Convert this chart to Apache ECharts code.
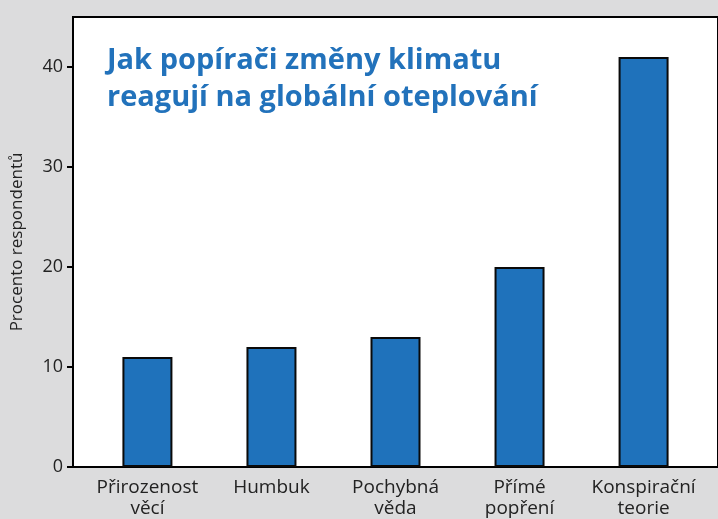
<!DOCTYPE html>
<html><head><meta charset="utf-8">
<script src="https://cdn.jsdelivr.net/npm/echarts@6/dist/echarts.min.js"></script>
<style>html,body{margin:0;padding:0;background:#dcdcdd;}#c{width:718px;height:519px;}</style>
</head><body><div id="c"></div>
<script>
const categories = ['Přirozenost\nvěcí', 'Humbuk', 'Pochybná\nvěda', 'Přímé\npopření', 'Konspirační\nteorie'];
const values = [11, 12, 13, 20, 41];
const yTicks = [0, 10, 20, 30, 40];
const titleLines = 'Jak popírači změny klimatu\nreagují na globální oteplování';
const yName = 'Procento respondentů';

const chart = echarts.init(document.getElementById('c'), null, {renderer: 'canvas'});
const font = 'Open Sans';
chart.setOption({
  backgroundColor: '#dcdcdd',
  animation: false,
  title: {
    text: titleLines, left: 102, top: 37,
    textStyle: {color: '#2272bb', fontFamily: font, fontWeight: 'bold', fontSize: 29, lineHeight: 37}
  },
  grid: {left: 73, right: -3, top: 17, bottom: 51, show: true, backgroundColor: '#ffffff', borderColor: '#000', borderWidth: 2},
  xAxis: {
    type: 'value', min: -0.6, max: 4.6,
    splitLine: {show: false}, axisTick: {show: false},
    axisLine: {show: true, onZero: false, lineStyle: {color: '#000', width: 2}},
    axisLabel: {
      customValues: categories.map((c, i) => i),
      formatter: v => categories[Math.round(v)] || '',
      color: '#222', fontFamily: font, fontSize: 19, lineHeight: 21, margin: 10
    }
  },
  yAxis: {
    type: 'value', min: 0, max: 45, interval: 10,
    name: yName, nameLocation: 'middle', nameGap: 47,
    nameTextStyle: {color: '#222', fontFamily: font, fontSize: 17},
    splitLine: {show: false},
    axisLine: {show: true, onZero: false, lineStyle: {color: '#000', width: 2}},
    axisTick: {show: true, length: 6, lineStyle: {color: '#000', width: 2}, customValues: yTicks},
    axisLabel: {customValues: yTicks, color: '#222', fontFamily: font, fontSize: 18, margin: 10}
  },
  series: [{
    type: 'bar', barWidth: 50,
    data: values.map((v, i) => [i, v]),
    itemStyle: {color: '#1f72bb', borderColor: '#0a0a0a', borderWidth: 2}
  }]
});
</script></body></html>
